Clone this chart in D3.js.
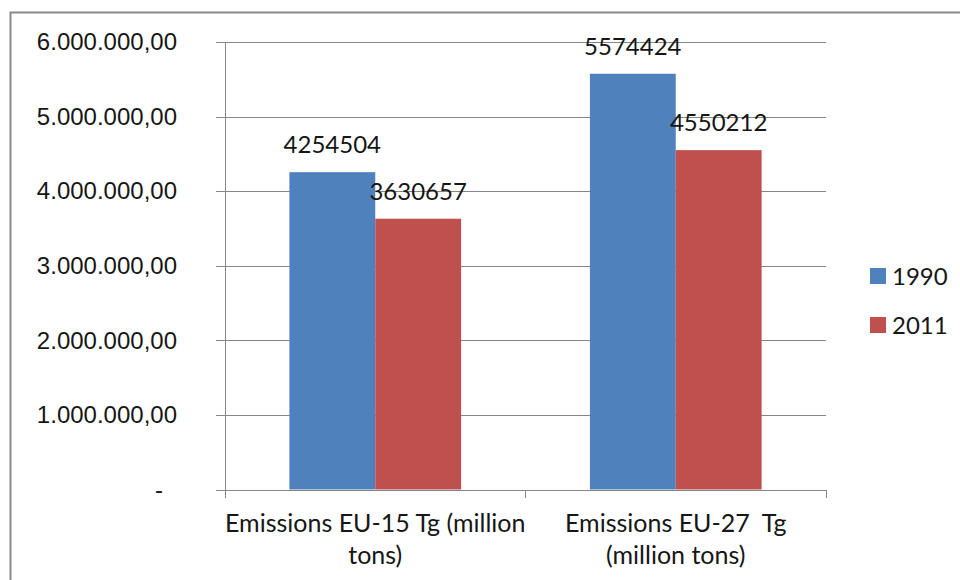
<!DOCTYPE html>
<html>
<head>
<meta charset="utf-8">
<script src="https://cdn.jsdelivr.net/npm/d3@7"></script>
<style>
  html, body { margin: 0; padding: 0; background: #fff; }
  svg { display: block; font-family: Lato, "Open Sans", sans-serif; }
  text { white-space: pre; fill: #161616; }
</style>
</head>
<body>
<svg id="chart" width="960" height="580"></svg>
<script>
// Emissions totals, EU-15 vs EU-27
const categories = ["EU-15", "EU-27"];
const categoryLines = [
  ["Emissions EU-15 Tg (million", "tons)"],
  ["Emissions EU-27  Tg", "(million tons)"]
];
const seriesNames = ["1990", "2011"];
const values1990 = [4254504, 5574424];
const values2011 = [3630657, 4550212];
const yTicks = [0, 1000000, 2000000, 3000000, 4000000, 5000000, 6000000];
const colors = ["#4F81BD", "#C0504D"];

const seriesValues = [values1990, values2011];
const rows = categories.map((c, i) => ({
  cat: c,
  lines: categoryLines[i],
  bars: seriesNames.map((s, j) => ({ series: s, value: seriesValues[j][i], color: colors[j] }))
}));

const svg = d3.select("#chart");
const plot = { left: 225, right: 826, top: 42, bottom: 489.5 };

// Outer chart frame
svg.append("rect")
  .attr("x", 10.5).attr("y", 12.5)
  .attr("width", 970).attr("height", 600)
  .attr("fill", "none").attr("stroke", "#898989").attr("stroke-width", 2);

const y = d3.scaleLinear().domain([0, 6000000]).range([plot.bottom, plot.top]);
const x0 = d3.scaleBand().domain(categories).range([plot.left, plot.right]).padding(0);
const x1 = d3.scaleBand().domain(seriesNames).range([0, x0.bandwidth()])
  .paddingInner(0).paddingOuter(0.75);

const locale = d3.formatLocale({ decimal: ",", thousands: ".", grouping: [3], currency: ["", ""] });
const fmt = locale.format(",.2f");

// Horizontal gridlines (extend through the tick marks)
svg.append("g")
  .attr("transform", `translate(${plot.left},0)`)
  .call(d3.axisLeft(y).tickValues(yTicks).tickSize(-(plot.right - plot.left)).tickFormat(""))
  .call(g => g.select(".domain").remove())
  .call(g => g.selectAll("line").attr("stroke", "#868686").attr("shape-rendering", "crispEdges"));

// Y axis with outward ticks and labels
svg.append("g")
  .attr("transform", `translate(${plot.left},0)`)
  .call(d3.axisLeft(y).tickValues(yTicks).tickSizeInner(9).tickSizeOuter(0).tickPadding(39)
    .tickFormat(d => d === 0 ? "-" : fmt(d)))
  .call(g => g.select(".domain").attr("stroke", "#868686").attr("shape-rendering", "crispEdges"))
  .call(g => g.selectAll("line").attr("stroke", "#868686").attr("shape-rendering", "crispEdges"))
  .call(g => g.selectAll("text")
    .attr("font-size", 24).attr("fill", "#161616").attr("font-family", null)
    .attr("dx", d => d === 0 ? -14 : 0));

// X axis baseline and category boundary ticks
svg.append("g")
  .attr("transform", `translate(0,${plot.bottom})`)
  .call(d3.axisBottom(x0).tickSize(0).tickFormat(""))
  .call(g => g.select(".domain").attr("stroke", "#868686").attr("shape-rendering", "crispEdges"));

const boundaries = categories.map(c => x0(c)).concat([x0.range()[1]]);
svg.append("g").selectAll("line").data(boundaries).join("line")
  .attr("x1", d => d).attr("x2", d => d)
  .attr("y1", plot.bottom).attr("y2", plot.bottom + 8)
  .attr("stroke", "#868686").attr("shape-rendering", "crispEdges");

// Bars
const groups = svg.append("g").selectAll("g").data(rows).join("g")
  .attr("transform", d => `translate(${x0(d.cat)},0)`);

groups.selectAll("rect").data(d => d.bars).join("rect")
  .attr("x", d => x1(d.series))
  .attr("width", x1.bandwidth())
  .attr("y", d => y(d.value))
  .attr("height", d => plot.bottom - y(d.value))
  .attr("fill", d => d.color);

// Value labels above each bar
groups.selectAll("text.val").data(d => d.bars).join("text")
  .attr("class", "val")
  .attr("x", d => x1(d.series) + x1.bandwidth() / 2)
  .attr("y", d => y(d.value) - 19)
  .attr("text-anchor", "middle")
  .attr("font-size", 24)
  .text(d => d.value);

// Category labels (two lines each)
const catLabels = svg.append("g").selectAll("text").data(rows).join("text")
  .attr("text-anchor", "middle")
  .attr("font-size", 25)
  .attr("x", d => x0(d.cat) + x0.bandwidth() / 2)
  .attr("y", 532);
catLabels.selectAll("tspan").data(d => d.lines).join("tspan")
  .attr("x", function () { return d3.select(this.parentNode).attr("x"); })
  .attr("dy", (d, i) => i === 0 ? 0 : 32)
  .text(d => d);

// Legend
const legend = svg.append("g").selectAll("g").data(seriesNames).join("g")
  .attr("transform", (d, i) => `translate(870,${268 + i * 49})`);
legend.append("rect")
  .attr("width", 16).attr("height", 16)
  .attr("fill", (d, i) => colors[i]);
legend.append("text")
  .attr("x", 22).attr("y", 16.5)
  .attr("font-size", 24)
  .text(d => d);
</script>
</body>
</html>
